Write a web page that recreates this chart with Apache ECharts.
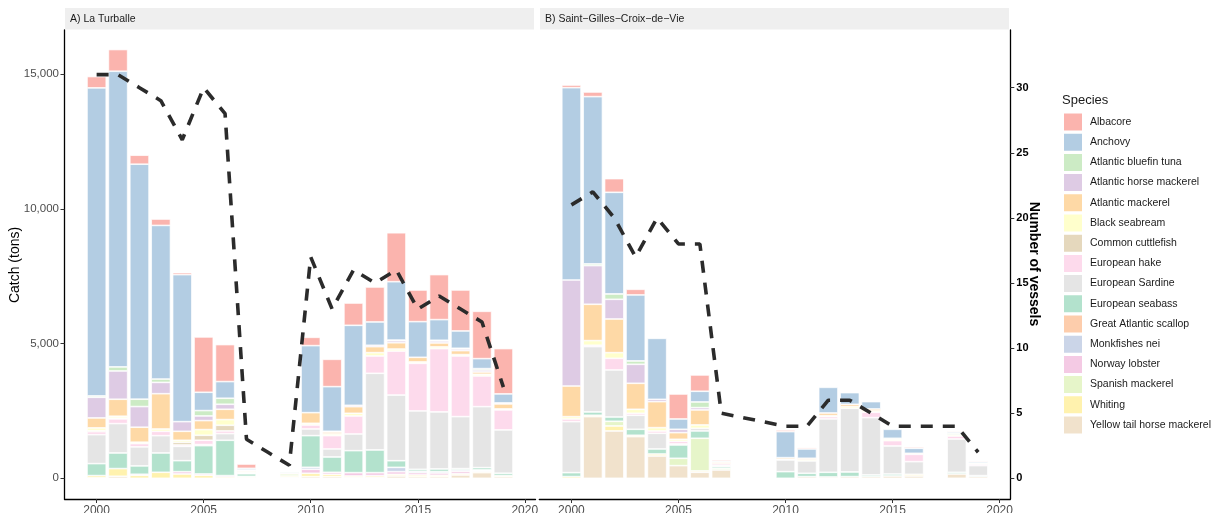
<!DOCTYPE html>
<html><head><meta charset="utf-8">
<script src="https://cdn.jsdelivr.net/npm/echarts@6/dist/echarts.min.js"></script>
<style>html,body{margin:0;padding:0;background:#fff}#c{width:1214px;height:513px}</style>
</head><body><div id="c"></div>
<script>
const years = [2000,2001,2002,2003,2004,2005,2006,2007,2008,2009,2010,2011,2012,2013,2014,2015,2016,2017,2018,2019];
const axisYears = [1999,2000,2001,2002,2003,2004,2005,2006,2007,2008,2009,2010,2011,2012,2013,2014,2015,2016,2017,2018,2019,2020];
const species = ["Albacore","Anchovy","Atlantic bluefin tuna","Atlantic horse mackerel","Atlantic mackerel","Black seabream","Common cuttlefish","European hake","European Sardine","European seabass","Great Atlantic scallop","Monkfishes nei","Norway lobster","Spanish mackerel","Whiting","Yellow tail horse mackerel"];
const colors = ["#FBB4AE","#B3CDE3","#CCEBC5","#DECBE4","#FED9A6","#FFFFCC","#E5D8BD","#FDDAEC","#E5E5E5","#B3E2CD","#FDCDAC","#CBD5E8","#F4CAE4","#E6F5C9","#FFF2AE","#F1E2CC"];
const xTickYears = [2000,2005,2010,2015,2020];
const catchTicks = [0,5000,10000,15000];
const vesselTicks = [0,5,10,15,20,25,30];

// Panel A: La Turballe (tons per year 2000..2019)
const A_Albacore   = [420,805,334,237,74,2053,1373,160,0,0,309,1014,828,1298,1818,1175,1670,1521,1756,1682];
const A_Anchovy    = [11430,10970,8720,5700,5454,680,618,60,0,0,2486,1657,2968,866,2164,1323,767,643,371,334];
const A_Bluefin    = [50,150,272,124,0,198,223,0,0,0,0,0,0,0,25,0,25,25,50,0];
const A_HorseMack  = [766,1050,767,420,358,173,186,30,0,0,0,25,50,50,74,0,74,62,74,37];
const A_Mackerel   = [370,630,556,1310,334,334,383,40,0,0,396,74,247,223,235,173,148,148,86,186];
const A_Seabream   = [100,70,50,86,74,210,210,40,0,0,62,62,99,124,74,50,62,50,62,37];
const A_Cuttlefish = [40,30,0,0,100,186,210,0,0,0,0,0,0,0,0,0,0,0,0,0];
const A_Hake       = [110,173,124,160,50,160,100,0,0,0,148,495,668,643,1632,1768,2350,2250,1138,742];
const A_Sardine    = [1075,1090,705,643,532,40,248,30,0,0,247,297,618,2844,2436,2164,2115,1929,2263,1607];
const A_Seabass    = [445,580,310,717,408,1050,1310,100,0,40,1175,569,816,841,247,74,99,50,86,86];
const A_Scallop    = [0,0,0,0,0,0,0,0,0,0,0,0,0,0,0,0,0,0,0,0];
const A_Monkfish   = [0,0,0,0,0,0,0,0,0,0,74,0,0,0,160,50,50,50,30,0];
const A_Lobster    = [0,0,40,0,86,50,50,30,0,40,148,74,124,111,100,86,86,86,30,0];
const A_SpanMack   = [0,0,0,0,0,0,0,0,0,80,0,0,0,0,0,0,0,0,0,0];
const A_Whiting    = [80,285,110,223,160,111,50,40,0,50,124,86,50,60,60,62,50,50,40,40];
const A_Yellowtail = [20,75,0,0,0,0,0,0,0,35,62,62,36,39,86,62,62,124,210,62];
const A_Vessels    = [31,31,30,29,26,30,28,3,2,1,17,13,16,15,16,13,14,13,12,7];

// Panel B: Saint-Gilles-Croix-de-Vie
const B_Albacore   = [99,173,507,210,0,928,606,50,0,0,62,50,0,0,0,0,50,0,37,37];
const B_Anchovy    = [7135,6208,3772,2449,2263,383,396,37,0,0,965,346,952,433,272,334,186,0,50,50];
const B_Bluefin    = [0,62,198,124,0,0,210,0,0,0,0,0,0,0,0,37,0,0,50,0];
const B_HorseMack  = [3933,1434,730,705,86,124,86,0,0,0,0,0,0,0,0,0,0,0,0,0];
const B_Mackerel   = [1138,1348,1249,965,965,247,557,50,0,0,56,50,99,86,74,0,37,0,0,0];
const B_Seabream   = [86,173,210,148,124,74,124,0,0,0,30,50,37,62,50,50,0,0,50,37];
const B_Cuttlefish = [0,0,0,0,0,0,0,0,0,0,0,0,0,0,0,0,0,0,0,0];
const B_Hake       = [99,50,433,74,86,99,0,62,0,0,0,0,86,0,198,198,272,0,111,50];
const B_Sardine    = [1892,2424,1744,519,581,37,99,50,0,0,433,457,1979,2362,2127,1039,470,0,1236,371];
const B_Seabass    = [148,124,160,223,186,495,272,62,0,0,247,124,173,173,62,74,0,0,62,37];
const B_Scallop    = [0,0,0,0,0,0,0,0,0,0,0,0,0,0,0,0,0,0,0,0];
const B_Monkfish   = [0,0,0,0,0,0,0,0,0,0,0,0,0,0,0,0,0,0,0,0];
const B_Lobster    = [0,0,0,0,0,0,0,0,0,0,0,0,0,0,0,0,0,0,0,0];
const B_SpanMack   = [0,0,173,0,0,272,1212,62,0,0,0,0,0,0,0,0,0,0,0,0];
const B_Whiting    = [62,50,186,50,74,0,50,0,0,0,0,0,0,0,0,0,62,0,0,0];
const B_Yellowtail = [0,2288,1756,1546,828,470,223,309,0,0,0,62,50,62,62,86,86,0,160,62];
const B_Vessels    = [21,22,20,17,20,18,18,5,null,null,4,4,6,6,5,4,4,4,4,2];

const panelA = [A_Albacore,A_Anchovy,A_Bluefin,A_HorseMack,A_Mackerel,A_Seabream,A_Cuttlefish,A_Hake,A_Sardine,A_Seabass,A_Scallop,A_Monkfish,A_Lobster,A_SpanMack,A_Whiting,A_Yellowtail];
const panelB = [B_Albacore,B_Anchovy,B_Bluefin,B_HorseMack,B_Mackerel,B_Seabream,B_Cuttlefish,B_Hake,B_Sardine,B_Seabass,B_Scallop,B_Monkfish,B_Lobster,B_SpanMack,B_Whiting,B_Yellowtail];

const FONT = "'Liberation Sans', Arial, sans-serif";
const catchMin = -768, catchMax = 16633;
const tonsPerVessel = 483.1;
const vMin = catchMin / tonsPerVessel, vMax = catchMax / tonsPerVessel;

// align a 2000..2019 array onto the 1999..2020 category axis; zero catches are left empty
function onAxis(arr, pad, dropZero) {
  return axisYears.map(y => {
    const i = years.indexOf(y);
    if (i < 0) return pad;
    const v = arr[i];
    return (dropZero && v === 0) ? '-' : v;
  });
}
function barSeries(arrs, stack, xi, yi) {
  const out = [];
  for (let k = species.length - 1; k >= 0; k--) {
    out.push({
      type: 'bar', name: species[k], stack: stack, xAxisIndex: xi, yAxisIndex: yi,
      barWidth: '90%',
      data: onAxis(arrs[k], '-', true),
      itemStyle: { color: colors[k], borderColor: '#ffffff', borderWidth: 0.7 },
      emphasis: { disabled: true }, silent: true
    });
  }
  return out;
}
function lineSeries(vals, xi, yi) {
  return {
    type: 'line', name: 'vessels' + xi, xAxisIndex: xi, yAxisIndex: yi, data: onAxis(vals, null, false),
    connectNulls: true, symbol: 'none', z: 5, silent: true,
    lineStyle: { color: '#2b2b2b', width: 3.6, type: [12, 10], cap: 'butt' }
  };
}
const showYear = (idx, val) => xTickYears.indexOf(Number(val)) >= 0;
const xAxisBase = (gi) => ({
  type: 'category', gridIndex: gi, data: axisYears.map(String), boundaryGap: true,
  splitLine: { show: false },
  axisLine: { show: true, onZero: false, lineStyle: { color: '#000', width: 1.3 } },
  axisTick: { show: true, length: 4, alignWithLabel: true, interval: showYear, lineStyle: { color: '#333', width: 1 } },
  axisLabel: { interval: showYear, color: '#4D4D4D', fontSize: 12, fontFamily: FONT, margin: 5.5 }
});

const option = {
  animation: false,
  backgroundColor: '#ffffff',
  grid: [
    { left: 64.5, top: 30, width: 471, height: 469, outerBoundsMode: 'none' },
    { left: 539.3, top: 30, width: 471, height: 469, outerBoundsMode: 'none' }
  ],
  xAxis: [xAxisBase(0), xAxisBase(1)],
  yAxis: [
    { type: 'value', gridIndex: 0, min: catchMin, max: catchMax, splitLine: { show: false },
      axisLine: { show: true, onZero: false, lineStyle: { color: '#000', width: 1.3 } },
      axisTick: { show: true, length: 4, lineStyle: { color: '#333', width: 1 }, customValues: catchTicks },
      axisLabel: { customValues: catchTicks, color: '#4D4D4D', fontSize: 11.5, fontFamily: FONT, margin: 5.5,
        formatter: v => v.toLocaleString('en-US') } },
    { type: 'value', gridIndex: 0, min: vMin, max: vMax, show: false, splitLine: { show: false } },
    { type: 'value', gridIndex: 1, min: catchMin, max: catchMax, show: false, splitLine: { show: false } },
    { type: 'value', gridIndex: 1, min: vMin, max: vMax, position: 'right', splitLine: { show: false },
      axisLine: { show: true, onZero: false, lineStyle: { color: '#000', width: 1.3 } },
      axisTick: { show: true, length: 4, lineStyle: { color: '#333', width: 1 }, customValues: vesselTicks },
      axisLabel: { customValues: vesselTicks, color: '#000', fontWeight: 'bold', fontSize: 11, fontFamily: FONT, margin: 6,
        formatter: v => String(v) } }
  ],
  legend: {
    data: species, orient: 'vertical', left: 1062, top: 111.5, padding: 0,
    itemWidth: 20, itemHeight: 19, itemGap: -0.8, icon: 'rect', selectedMode: false,
    textStyle: { fontSize: 10.5, color: '#1a1a1a', fontFamily: FONT, padding: [0, 0, 0, 2] }
  },
  graphic: [
    { type: 'rect', shape: { x: 65, y: 8, width: 469, height: 21.5 }, style: { fill: '#EFEFEF' }, silent: true },
    { type: 'rect', shape: { x: 540, y: 8, width: 469, height: 21.5 }, style: { fill: '#EFEFEF' }, silent: true },
    { type: 'text', x: 70, y: 19, style: { text: 'A) La Turballe', fontSize: 10.5, fontFamily: FONT, fill: '#1a1a1a', verticalAlign: 'middle' }, silent: true },
    { type: 'text', x: 545, y: 19, style: { text: 'B) Saint\u2212Gilles\u2212Croix\u2212de\u2212Vie', fontSize: 10.5, fontFamily: FONT, fill: '#1a1a1a', verticalAlign: 'middle' }, silent: true },
    { type: 'text', x: 15, y: 265, rotation: Math.PI / 2, style: { text: 'Catch (tons)', fontSize: 14, fontFamily: FONT, fill: '#000', align: 'center', verticalAlign: 'middle' }, silent: true },
    { type: 'text', x: 1034, y: 264, rotation: -Math.PI / 2, style: { text: 'Number of vessels', fontSize: 14, fontWeight: 'bold', fontFamily: FONT, fill: '#000', align: 'center', verticalAlign: 'middle' }, silent: true },
    { type: 'text', x: 1062, y: 100, style: { text: 'Species', fontSize: 13, fontFamily: FONT, fill: '#1a1a1a', verticalAlign: 'middle' }, silent: true }
  ],
  series: [].concat(
    barSeries(panelA, 'A', 0, 0),
    barSeries(panelB, 'B', 1, 2),
    [lineSeries(A_Vessels, 0, 1), lineSeries(B_Vessels, 1, 3)]
  )
};
const chart = echarts.init(document.getElementById('c'), null, { renderer: 'canvas' });
chart.setOption(option);
</script></body></html>
